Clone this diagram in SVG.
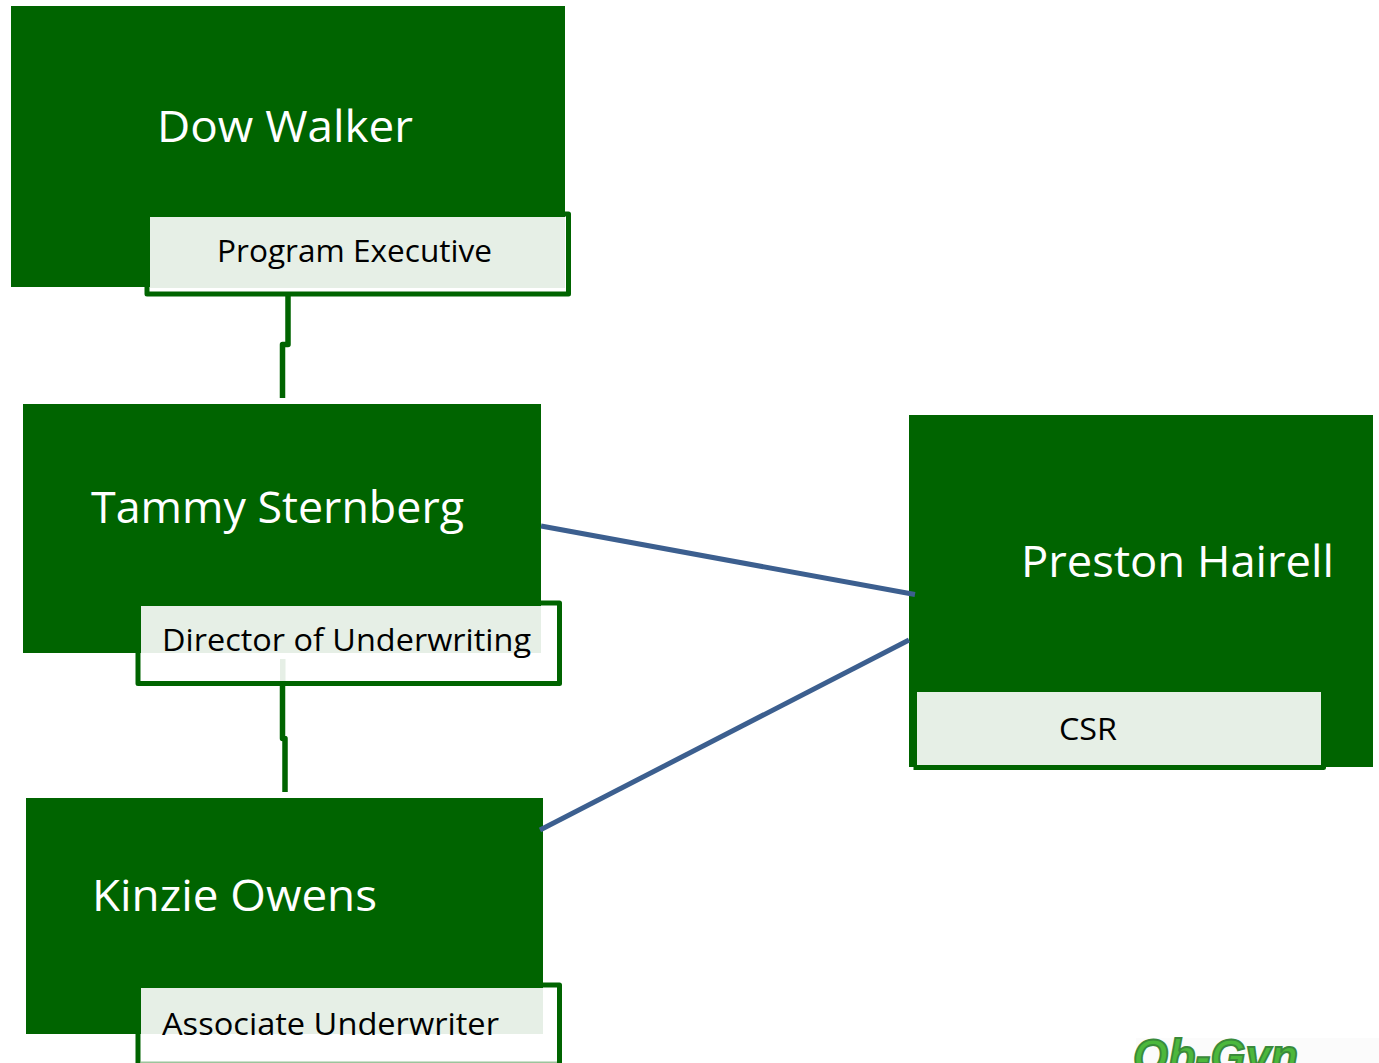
<svg xmlns="http://www.w3.org/2000/svg" width="1379" height="1063" viewBox="0 0 1379 1063">
<style>
.box{fill:#006400}
.sub{fill:#e6efe6}
.frame{fill:none;stroke:#006400;stroke-width:5;stroke-linejoin:round}
.name{font-family:"Open Sans","Noto Sans",sans-serif;font-size:44px;fill:#fff}
.role{font-family:"Open Sans","Noto Sans",sans-serif;font-size:31px;fill:#000}
.tree{fill:none;stroke:#006400;stroke-width:5.500;stroke-linejoin:round}
.link{fill:none;stroke:#3c5f8f;stroke-width:5}
</style>
<rect width="1379" height="1063" fill="#fff"/>
<g id="node-dow">
<rect class="box" x="11" y="6" width="554" height="281"/>
<rect class="sub" x="150" y="217" width="415" height="71"/>
<path class="frame" d="M147 287V294H568.500V214H564"/>
<text class="name" x="157" y="142" textLength="256" lengthAdjust="spacingAndGlyphs">Dow Walker</text>
<text class="role" x="217" y="262" textLength="275" lengthAdjust="spacingAndGlyphs">Program Executive</text>
</g>
<g id="node-tammy">
<rect class="box" x="23" y="404" width="518" height="249"/>
<rect class="sub" x="141" y="606" width="400" height="47"/>
<path class="frame" d="M138 653V683.500H559.500V603H541"/>
<text class="name" x="91" y="523" textLength="373" lengthAdjust="spacingAndGlyphs">Tammy Sternberg</text>
<text class="role" x="162" y="651" textLength="369" lengthAdjust="spacingAndGlyphs">Director of Underwriting</text>
</g>
<g id="node-kinzie">
<rect class="box" x="26" y="798" width="517" height="236"/>
<rect class="sub" x="141" y="988" width="402" height="46"/>
<path class="frame" d="M138 1034V1068M559.500 1068V985H543"/>
<rect x="141" y="1061.500" width="416" height="1.500" fill="#9cc49c"/>
<text class="name" x="92" y="911" textLength="285" lengthAdjust="spacingAndGlyphs">Kinzie Owens</text>
<text class="role" x="162" y="1035" textLength="337" lengthAdjust="spacingAndGlyphs">Associate Underwriter</text>
</g>
<g id="node-preston">
<rect class="box" x="909" y="415" width="464" height="352"/>
<rect class="sub" x="917" y="692" width="404" height="73"/>
<path class="frame" d="M913.500 767.500H1323.500V760"/>
<text class="name" x="1021" y="577" textLength="313" lengthAdjust="spacingAndGlyphs">Preston Hairell</text>
<text class="role" x="1059" y="740" textLength="58" lengthAdjust="spacingAndGlyphs">CSR</text>
</g>
<g id="logo">
<rect x="1136" y="1038" width="243" height="25" fill="#fbfbfb"/>
<text x="1133" y="1073" font-family="'Liberation Sans',sans-serif" font-size="48" font-weight="bold" font-style="italic" fill="#4cb83c" stroke="#3a8a3a" stroke-width="2" textLength="165" lengthAdjust="spacingAndGlyphs">Ob-Gyn</text>
</g>
<g id="connectors">
<path class="tree" d="M288 295V344.500H282.500V398"/>
<path class="tree" d="M282.500 684V738.500H285V792"/>
<rect x="280" y="659" width="5.500" height="22" fill="#e6efe6"/>
<path class="link" d="M541 526L915 594.500"/>
<path class="link" d="M540 830L909 640"/>
</g>
</svg>
